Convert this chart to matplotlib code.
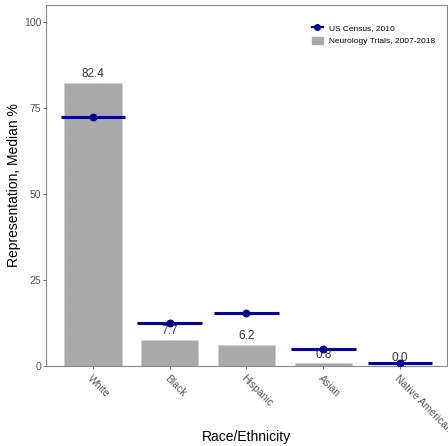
import numpy as np
import matplotlib
matplotlib.use("Agg")
import matplotlib.pyplot as plt
from matplotlib.lines import Line2D
from matplotlib.patches import Patch

categories = ["White", "Black", "Hispanic", "Asian", "Native American"]
trials = [82.4, 7.7, 6.2, 0.8, 0.0]
census = [72.4, 12.6, 15.4, 5.0, 0.8]

plt.rcParams["font.family"] = ["Liberation Sans", "DejaVu Sans"]

fig, ax = plt.subplots(figsize=(4.48, 4.46), dpi=100)
fig.subplots_adjust(left=46 / 448, right=447 / 448, bottom=1 - 366 / 446, top=1 - 5 / 446)

x = np.arange(1, len(categories) + 1)
ax.bar(x, trials, width=0.75, color="#A9A9A9", edgecolor="#C8C8C8",
       linewidth=0.6, linestyle=":", zorder=2)
for xi, v in zip(x, trials):
    ax.text(xi, v + 0.7, "%.1f" % v, ha="center", va="bottom",
            fontsize=8.5, color="#333333", zorder=4)

ax.hlines(census, x - 0.42, x + 0.42, color="#00008B", linewidth=2.2, zorder=3)
ax.scatter(x, census, s=22, color="#00008B", zorder=4)

ax.set_xlim(0.39, 5.61)
ax.set_ylim(0, 105)
ax.set_yticks([0, 25, 50, 75, 100])
ax.set_xticks(x)
ax.set_xticklabels(categories, rotation=-45, ha="left", va="top",
                   rotation_mode="anchor", fontsize=7.5, color="#555555")
ax.tick_params(axis="y", labelsize=7.5, labelcolor="#555555", color="#555555",
               length=2, width=0.6, pad=1.5)
ax.tick_params(axis="x", color="#555555", length=2, width=0.6, pad=3)
for sp in ax.spines.values():
    sp.set_color("#888888")
    sp.set_linewidth(0.8)

ax.set_ylabel("Representation, Median %", fontsize=10, labelpad=2)
ax.set_xlabel("Race/Ethnicity", fontsize=10, va="center")
ax.xaxis.set_label_coords(0.5, -71 / 361)

handles = [Line2D([0], [0], color="#00008B", marker="o", markersize=4, linewidth=1.6),
           Patch(facecolor="#A9A9A9", edgecolor="#A9A9A9")]
ax.legend(handles, ["US Census, 2010", "Neurology Trials, 2007-2018"],
          loc="upper right", bbox_to_anchor=(0.99, 0.97), frameon=False,
          fontsize=6, handlelength=1.3, handleheight=1.0, labelspacing=0.6)

fig.savefig("out.png", dpi=100, facecolor="white")
